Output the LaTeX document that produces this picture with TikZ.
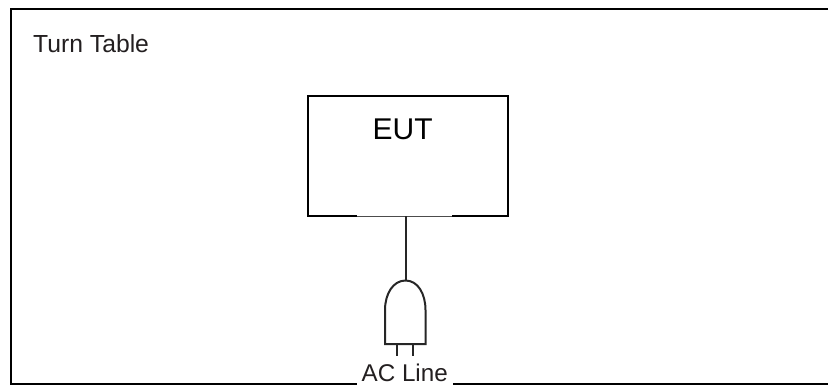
\documentclass[tikz,border=0pt]{standalone}
\usepackage{fontspec}
\setmainfont{Liberation Sans}
\usepackage{xcolor}
\usepackage{tikz}
\usetikzlibrary{positioning}
\definecolor{inkblack}{HTML}{231F20}
\tikzset{
    box/.style={draw=black, line width=2pt, inner sep=0pt, outer sep=0pt, anchor=north west},
    label/.style={text=inkblack, inner sep=0pt, anchor=base west},
    wire/.style={draw=black!85, line width=2pt},
}

\begin{document}
\begin{tikzpicture}[x=1pt, y=-1pt]
    \useasboundingbox (0,0) rectangle (828,385);
    % Turn table, its right edge lies past the page
    \begin{scope}
        \clip (0,0) rectangle (828,385);
        \node[box, minimum width=830pt, minimum height=374pt] (table) at (11,9.5) {};
    \end{scope}
    \node[label, font=\fontsize{24.7}{24.7}\selectfont] (title) at (33,53) {Turn Table};
    \node[label, fill=white, inner xsep=5pt, inner ysep=0pt, text depth=3.8pt, font=\fontsize{24.2}{24.2}\selectfont] (acline) at (356.5,381) {AC Line};

    % EUT
    \node[box, minimum width=200pt, minimum height=120pt] (eut) at (308,96.5) {};
    \node[label, text=black, font=\fontsize{30}{30}\selectfont] (eutlabel) at (372.5,140) {EUT};
    \draw[draw=white, line width=2.5pt] (357,216.5) -- (452,216.5);
    \draw[draw=black!70, line width=0.7pt] (357,216.5) -- (452,216.5);

    % Plug
    \coordinate (plugtop) at (405.5,280.5);
    \draw[wire] (eut.south -| plugtop) -- (plugtop);
    \draw[wire] (plugtop) .. controls (393,280.5) and (385,294) .. (385,310)
        -- (385,344) -- (425.5,344) -- (425.5,310)
        .. controls (425.5,294) and (418,280.5) .. (plugtop);
    \coordinate (prongA) at (396.5,344);
    \coordinate (prongB) at (412.5,344);
    \draw[wire] (prongA) -- ++(0,12);
    \draw[wire] (prongB) -- ++(0,12);
\end{tikzpicture}
\end{document}
